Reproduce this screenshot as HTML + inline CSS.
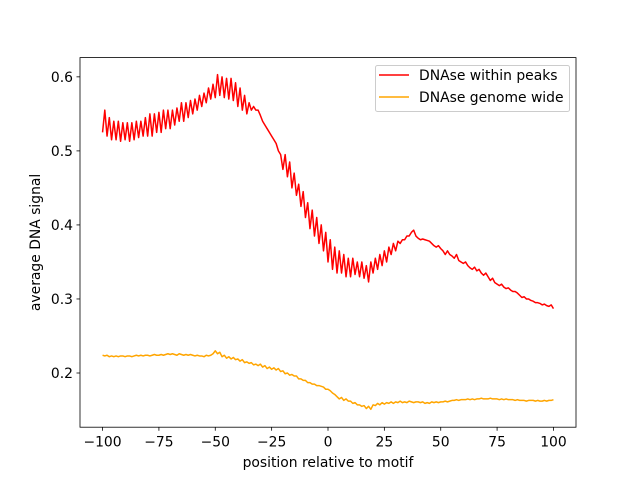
<!DOCTYPE html>
<html><head><meta charset="utf-8"><style>
body{margin:0;background:#fff;}
svg text{font-family:"DejaVu Sans","Liberation Sans",sans-serif;font-size:13.9px;fill:#000;}
</style></head><body>
<svg id="chart" width="640" height="480" viewBox="0 0 640 480" xmlns="http://www.w3.org/2000/svg">
<rect x="0" y="0" width="640" height="480" fill="#fff"/>
<g id="plot"></g>
</svg>
<script>
const xTicks = [-100,-75,-50,-25,0,25,50,75,100];
const yTicks = [0.2,0.3,0.4,0.5,0.6];
const seriesNames = ["DNAse within peaks","DNAse genome wide"];
const peaks = [.525,.555,.52,.545,.515,.54,.515,.54,.513,.538,
.515,.538,.513,.538,.515,.54,.518,.54,.52,.545,
.52,.55,.52,.55,.525,.552,.525,.555,.53,.555,
.53,.555,.535,.558,.54,.565,.54,.565,.545,.568,
.55,.57,.555,.575,.56,.578,.565,.585,.57,.59,
.572,.603,.575,.6,.572,.598,.57,.598,.568,.592,
.56,.585,.555,.575,.55,.565,.555,.56,.555,.555,
.548,.54,.535,.53,.525,.52,.515,.51,.5,.495,
.475,.495,.465,.485,.45,.47,.44,.455,.425,.445,
.41,.43,.395,.42,.385,.41,.375,.4,.365,.39,
.35,.38,.34,.37,.335,.365,.335,.36,.33,.355,
.33,.355,.333,.35,.33,.35,.328,.345,.323,.35,
.335,.355,.34,.36,.345,.365,.35,.37,.36,.375,
.365,.378,.375,.38,.38,.385,.385,.39,.393,.385,
.382,.38,.381,.38,.379,.378,.375,.372,.37,.372,
.368,.365,.36,.365,.36,.358,.355,.36,.352,.35,
.348,.35,.345,.342,.34,.343,.338,.34,.335,.332,
.335,.33,.325,.328,.322,.32,.318,.32,.316,.314,
.315,.312,.31,.31,.308,.305,.302,.303,.3,.3,
.298,.297,.295,.295,.294,.292,.293,.291,.29,.292,
.287];
const genome = [.224,.223,.224,.222,.223,.222,.223,.222,.223,.223,
.222,.223,.223,.222,.223,.224,.223,.224,.223,.224,
.224,.223,.224,.225,.224,.224,.225,.224,.225,.226,
.225,.226,.225,.224,.226,.225,.224,.225,.224,.225,
.224,.223,.224,.223,.223,.222,.224,.223,.224,.226,
.23,.226,.228,.222,.224,.22,.222,.219,.221,.218,
.219,.216,.218,.214,.215,.213,.214,.211,.212,.21,
.212,.208,.21,.206,.208,.205,.207,.204,.206,.202,
.203,.199,.2,.197,.198,.196,.196,.192,.192,.19,
.19,.187,.187,.185,.185,.183,.183,.182,.181,.178,
.178,.176,.173,.171,.168,.165,.167,.163,.165,.162,
.162,.159,.16,.157,.157,.155,.156,.152,.155,.151,
.157,.156,.159,.157,.16,.158,.16,.159,.161,.159,
.161,.16,.162,.16,.161,.16,.162,.161,.16,.161,
.161,.16,.161,.159,.16,.159,.161,.16,.161,.16,
.161,.161,.162,.161,.162,.163,.163,.164,.163,.164,
.164,.164,.165,.164,.165,.164,.165,.165,.166,.165,
.165,.165,.166,.165,.165,.165,.164,.165,.164,.165,
.164,.164,.164,.163,.164,.163,.163,.163,.162,.163,
.163,.163,.162,.163,.162,.162,.163,.162,.163,.163,
.164];
const xStart = -100;

const L=80,R=576,T=57.6,B=427.2;
const xMin=-110,xMax=110,yMin=0.1268,yMax=0.626;
const sx=v=>L+(v-xMin)/(xMax-xMin)*(R-L);
const sy=v=>B-(v-yMin)/(yMax-yMin)*(B-T);
const NS="http://www.w3.org/2000/svg";
const g=document.getElementById('plot');
function mk(tag,attrs,parent){const e=document.createElementNS(NS,tag);for(const k in attrs)e.setAttribute(k,attrs[k]);(parent||g).appendChild(e);return e;}

function drawSeries(vals,color,name){
  const pts=vals.map((v,i)=>sx(xStart+i).toFixed(2)+','+sy(v).toFixed(2)).join(' ');
  const p=mk('polyline',{points:pts,fill:'none',stroke:color,'stroke-width':1.5,'stroke-linejoin':'round'});
  
  
}
drawSeries(peaks,'#ff0000','series-dnase-within-peaks');
drawSeries(genome,'#ffa500','series-dnase-genome-wide');

const frame=mk('rect',{x:L,y:T,width:R-L,height:B-T,fill:'none',stroke:'#000','stroke-width':0.8});



xTicks.forEach(t=>{
  const x=sx(t);
  mk('line',{x1:x,x2:x,y1:B,y2:B+3.5,stroke:'#000','stroke-width':0.8});
  const tx=mk('text',{x:x,y:B+19.5,'text-anchor':'middle'});
  tx.textContent=(t<0?'\u2212'+(-t):t);
  
  
});
yTicks.forEach(t=>{
  const y=sy(t);
  mk('line',{x1:L,x2:L-3.5,y1:y,y2:y,stroke:'#000','stroke-width':0.8});
  const tx=mk('text',{x:L-7,y:y+5,'text-anchor':'end'});
  tx.textContent=t.toFixed(1);
  
  
});
const xt=mk('text',{x:(L+R)/2,y:467,'text-anchor':'middle'});
xt.textContent='position relative to motif';


const yt=mk('text',{x:0,y:0,'text-anchor':'middle',transform:'translate(40,'+((T+B)/2)+') rotate(-90)'});
yt.textContent='average DNA signal';



const leg=mk('g',{});


mk('rect',{x:375.5,y:65.5,width:194,height:46,rx:2,fill:'#fff','fill-opacity':0.8,stroke:'#ccc','stroke-width':1},leg);
const colors=['#ff0000','#ffa500'];
seriesNames.forEach((n,i)=>{
  const y=75+i*22;
  const e=mk('g',{},leg);
  
  
  mk('line',{x1:379,x2:409,y1:y,y2:y,stroke:colors[i],'stroke-width':1.5},e);
  const t=mk('text',{x:419,y:y+5},e);
  t.textContent=n;
});
</script>
</body></html>
